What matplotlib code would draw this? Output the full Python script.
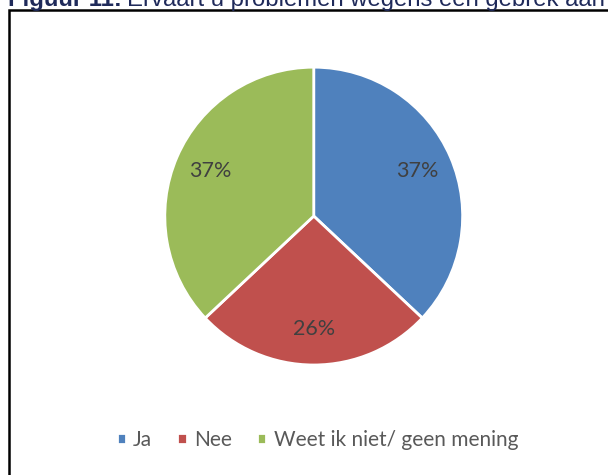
import matplotlib
matplotlib.use("Agg")
import matplotlib.pyplot as plt
from matplotlib.patches import Rectangle

labels = ["Ja", "Nee", "Weet ik niet/ geen mening"]
values = [37, 26, 37]
colors = ["#4F81BD", "#C0504D", "#9BBB59"]

fig = plt.figure(figsize=(6.08, 4.75), dpi=100)

# cropped caption above the chart frame
cap_y = 1 - 6 / 475
t1 = fig.text(8 / 608, cap_y, "Figuur 11:", fontsize=17.2, fontweight="bold",
              color="#1F2A5A", family="Liberation Sans", va="baseline", ha="left")
fig.canvas.draw()
x_end = fig.transFigure.inverted().transform(
    t1.get_window_extent(fig.canvas.get_renderer()).get_points())[1, 0]
fig.text(x_end + 5 / 608, cap_y, "Ervaart u problemen wegens een gebrek aan",
         fontsize=17.2, color="#1F2A5A", family="Liberation Sans",
         va="baseline", ha="left")

# chart frame
fig.patches.append(Rectangle((9 / 608, -0.05), 1.0, 1 - 10 / 475 + 0.05,
                             transform=fig.transFigure, fill=False,
                             edgecolor="black", linewidth=1.8))

ax = fig.add_axes([0.271, 0.2316, 0.49, 0.627])
wedges, _, autotexts = ax.pie(values, colors=colors, startangle=90, counterclock=False,
                              autopct="%d%%", pctdistance=0.76,
                              wedgeprops=dict(edgecolor="white", linewidth=2),
                              textprops=dict(color="#404040", fontsize=15.5, family="Lato"))
ax.set_xlim(-1, 1)
ax.set_ylim(-1, 1)
ax.set_aspect("equal")

leg = fig.legend(wedges, labels, loc="center", bbox_to_anchor=(0.522, 1 - 440 / 475),
                 ncol=3, frameon=False, handlelength=0.45, handleheight=0.45,
                 handletextpad=0.35, columnspacing=1.2,
                 prop=dict(family="Lato", size=15))
for t in leg.get_texts():
    t.set_color("#595959")

fig.savefig("out.png", dpi=100)
